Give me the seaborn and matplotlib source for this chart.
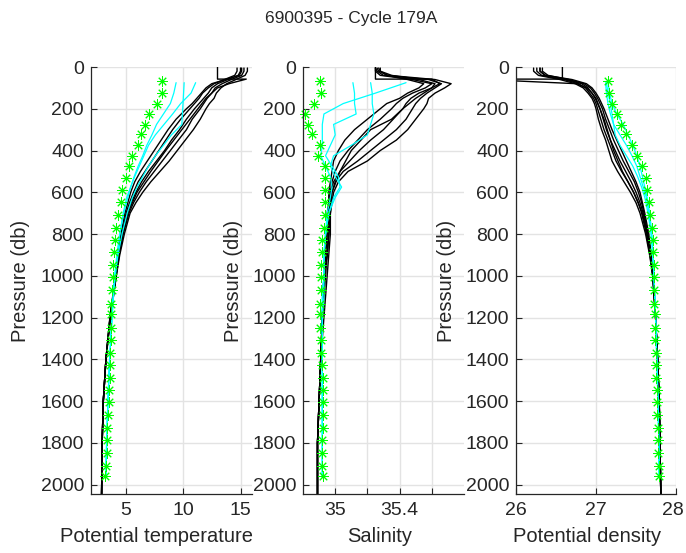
import numpy as np
import matplotlib
matplotlib.use("Agg")
import matplotlib.pyplot as plt
import matplotlib.transforms as mtransforms
import seaborn as sns

# ---------------- data ----------------
title = "6900395 - Cycle 179A"
xlabels = ["Potential temperature", "Salinity", "Potential density"]
ylabel = "Pressure (db)"
yticks = [0, 200, 400, 600, 800, 1000, 1200, 1400, 1600, 1800, 2000]

# previous cycles (black)
p_black = [5, 20, 40, 60, 80, 100, 125, 150, 175, 200, 250, 300, 350, 400, 450, 500,
           550, 600, 650, 700, 800, 900, 1000, 1200, 1400, 1600, 1800, 2045]
temp_black = [
    [15.6, 15.6, 15.4, 14.6, 13.8, 13.3, 12.9, 12.7, 12.3, 12.0, 11.5, 10.9, 10.2, 9.5, 8.8, 8.0,
     7.2, 6.5, 5.9, 5.4, 4.9, 4.5, 4.2, 3.70, 3.30, 3.07, 2.97, 2.92],
    [15.3, 15.3, 15.1, 14.2, 13.4, 12.8, 12.5, 12.1, 11.8, 11.5, 10.8, 10.3, 9.6, 8.9, 8.2, 7.5,
     6.8, 6.2, 5.7, 5.3, 4.8, 4.45, 4.2, 3.68, 3.30, 3.07, 2.97, 2.92],
    [15.0, 15.0, 14.8, 13.9, 13.0, 12.5, 12.2, 11.8, 11.4, 11.0, 10.3, 9.7, 9.0, 8.4, 7.7, 7.0,
     6.4, 5.9, 5.5, 5.15, 4.75, 4.4, 4.17, 3.66, 3.30, 3.07, 2.97, 2.92],
    [14.7, 14.7, 14.5, 13.6, 12.7, 12.2, 11.7, 11.4, 11.0, 10.6, 9.8, 9.1, 8.5, 7.9, 7.3, 6.7,
     6.1, 5.7, 5.35, 5.05, 4.7, 4.38, 4.15, 3.65, 3.30, 3.07, 2.97, 2.92],
    [15.1, 15.1, 14.9, 13.7, 12.5, 12.0, 11.6, 11.2, 10.8, 10.3, 9.4, 8.7, 8.1, 7.5, 6.9, 6.3,
     5.8, 5.45, 5.2, 4.95, 4.6, 4.33, 4.13, 3.64, 3.30, 3.07, 2.97, 2.92],
]
sal_black = [
    [35.26, 35.27, 35.33, 35.62, 35.72, 35.68, 35.62, 35.58, 35.57, 35.55, 35.50, 35.45, 35.38, 35.28,
     35.20, 35.08, 35.02, 34.99, 34.98, 34.97, 34.97, 34.96, 34.95, 34.93, 34.91, 34.90, 34.89, 34.89],
    [35.25, 35.26, 35.30, 35.58, 35.66, 35.62, 35.57, 35.53, 35.50, 35.48, 35.44, 35.38, 35.30, 35.22,
     35.14, 35.05, 35.00, 34.98, 34.97, 34.97, 34.96, 34.95, 34.94, 34.92, 34.91, 34.90, 34.89, 34.89],
    [35.27, 35.28, 35.35, 35.52, 35.62, 35.60, 35.52, 35.47, 35.44, 35.42, 35.36, 35.30, 35.22, 35.15,
     35.09, 35.03, 34.99, 34.97, 34.97, 34.96, 34.96, 34.95, 34.93, 34.92, 34.91, 34.90, 34.89, 34.89],
    [35.25, 35.25, 35.28, 35.48, 35.60, 35.56, 35.48, 35.42, 35.38, 35.35, 35.28, 35.20, 35.14, 35.08,
     35.03, 35.00, 34.98, 34.97, 34.96, 34.96, 34.95, 34.94, 34.93, 34.92, 34.91, 34.90, 34.89, 34.89],
    [35.28, 35.28, 35.32, 35.45, 35.55, 35.52, 35.45, 35.40, 35.32, 35.28, 35.20, 35.12, 35.06, 35.02,
     34.99, 34.98, 34.97, 34.96, 34.96, 34.95, 34.95, 34.94, 34.93, 34.92, 34.91, 34.90, 34.89, 34.89],
]
dens_black = [
    [26.22, 26.22, 26.28, 26.55, 26.74, 26.84, 26.90, 26.95, 26.98, 27.00, 27.03, 27.07, 27.12, 27.16,
     27.20, 27.27, 27.35, 27.43, 27.50, 27.55, 27.62, 27.67, 27.71, 27.745, 27.77, 27.79, 27.80, 27.81],
    [26.26, 26.26, 26.32, 26.60, 26.78, 26.87, 26.92, 26.97, 27.00, 27.02, 27.06, 27.10, 27.15, 27.20,
     27.25, 27.32, 27.40, 27.47, 27.53, 27.57, 27.63, 27.675, 27.71, 27.745, 27.77, 27.79, 27.80, 27.81],
    [26.30, 26.30, 26.36, 26.63, 26.82, 26.90, 26.95, 26.99, 27.02, 27.05, 27.09, 27.13, 27.18, 27.24,
     27.30, 27.37, 27.44, 27.50, 27.55, 27.59, 27.64, 27.68, 27.71, 27.745, 27.77, 27.79, 27.80, 27.81],
    [26.33, 26.33, 26.40, 26.66, 26.85, 26.93, 26.98, 27.02, 27.05, 27.08, 27.12, 27.17, 27.22, 27.28,
     27.34, 27.41, 27.48, 27.53, 27.57, 27.60, 27.65, 27.685, 27.715, 27.745, 27.77, 27.79, 27.80, 27.81],
    [26.30, 26.30, 26.37, 26.70, 26.88, 26.95, 27.00, 27.04, 27.07, 27.10, 27.15, 27.20, 27.26, 27.32,
     27.38, 27.44, 27.50, 27.55, 27.58, 27.61, 27.66, 27.69, 27.72, 27.745, 27.77, 27.79, 27.80, 27.81],
]
# one previous cycle with a bad first sample
p_odd = [0, 58, 58, 80, 100, 125, 150, 200, 250, 300, 400, 500, 600, 700, 800, 900, 1000,
         1200, 1400, 1600, 1800, 2045]
temp_odd = [13.0, 13.0, 15.5, 14.0, 13.0, 12.5, 12.0, 11.3, 10.6, 9.9, 8.5, 7.2, 6.0, 5.2, 4.75,
            4.4, 4.16, 3.66, 3.30, 3.07, 2.97, 2.92]
sal_odd = [35.25, 35.25, 35.60, 35.65, 35.60, 35.55, 35.50, 35.42, 35.35, 35.22, 35.10, 35.03,
           34.98, 34.97, 34.96, 34.95, 34.93, 34.92, 34.91, 34.90, 34.89, 34.89]
dens_odd = [26.58, 26.58, 25.50, 26.76, 26.88, 26.95, 27.00, 27.05, 27.10, 27.14, 27.22, 27.33,
            27.47, 27.58, 27.64, 27.68, 27.71, 27.745, 27.77, 27.79, 27.80, 27.81]

# current cycle (cyan)
p_cyan = [75, 125, 175, 225, 275, 325, 375, 425, 475, 525, 575, 625, 700, 800, 900, 1000,
          1100, 1200, 1400, 1600, 1800, 1965]
temp_cyan = [
    [9.4, 9.2, 8.9, 8.3, 7.7, 7.3, 6.85, 6.5, 6.1, 5.75, 5.45, 5.2, 4.85, 4.5, 4.25, 4.05,
     3.92, 3.82, 3.62, 3.47, 3.36, 3.29],
    [10.1, 10.05, 10.0, 9.95, 9.9, 9.0, 8.3, 7.6, 7.0, 6.5, 6.0, 5.6, 5.15, 4.7, 4.35, 4.1,
     3.95, 3.83, 3.62, 3.47, 3.36, 3.29],
    [11.1, 10.7, 9.8, 9.1, 8.35, 7.6, 7.0, 6.6, 6.2, 5.8, 5.45, 5.1, 4.8, 4.5, 4.3, 4.1,
     3.94, 3.83, 3.62, 3.47, 3.36, 3.29],
]
sal_cyan = [
    [35.11, 35.12, 35.12, 35.13, 34.99, 35.00, 34.97, 34.94, 34.98, 35.02, 35.03, 34.99, 34.96,
     34.94, 34.93, 34.93, 34.93, 34.92, 34.92, 34.92, 34.92, 34.92],
    [35.22, 35.23, 35.23, 35.24, 35.22, 35.20, 35.10, 34.99, 34.97, 35.00, 35.04, 35.00, 34.96,
     34.94, 34.93, 34.93, 34.92, 34.92, 34.92, 34.92, 34.92, 34.92],
    [35.44, 35.25, 35.05, 34.93, 34.92, 34.92, 34.92, 34.91, 34.94, 34.97, 34.98, 34.97, 34.95,
     34.94, 34.93, 34.93, 34.92, 34.92, 34.92, 34.92, 34.92, 34.92],
]
dens_cyan = [
    [27.15, 27.17, 27.20, 27.26, 27.34, 27.40, 27.46, 27.51, 27.55, 27.58, 27.61, 27.64, 27.67,
     27.70, 27.715, 27.725, 27.735, 27.745, 27.76, 27.775, 27.785, 27.79],
    [27.12, 27.13, 27.15, 27.18, 27.22, 27.30, 27.38, 27.45, 27.51, 27.55, 27.59, 27.63, 27.66,
     27.69, 27.71, 27.725, 27.735, 27.745, 27.76, 27.775, 27.785, 27.79],
    [27.13, 27.15, 27.18, 27.20, 27.22, 27.24, 27.30, 27.38, 27.46, 27.52, 27.57, 27.61, 27.65,
     27.69, 27.71, 27.725, 27.735, 27.745, 27.76, 27.775, 27.785, 27.79],
]

# climatology (green asterisks)
p_clim = [67, 123, 175, 225, 276, 322, 372, 424, 472, 530, 588, 648, 709, 770, 830, 888, 950,
          1005, 1069, 1133, 1181, 1248, 1309, 1368, 1429, 1488, 1549, 1605, 1666, 1728, 1785,
          1847, 1909, 1957]
temp_clim = [8.2, 8.2, 7.7, 7.05, 6.7, 6.33, 6.1, 5.6, 5.3, 5.0, 4.7, 4.57, 4.35, 4.2, 4.07, 4.0,
             3.92, 3.87, 3.81, 3.72, 3.72, 3.72, 3.70, 3.64, 3.64, 3.61, 3.57, 3.57, 3.49, 3.43,
             3.40, 3.35, 3.29, 3.26]
sal_clim = [34.907, 34.912, 34.866, 34.81, 34.83, 34.856, 34.907, 34.893, 34.934, 34.938, 34.938,
            34.938, 34.934, 34.928, 34.918, 34.918, 34.912, 34.912, 34.912, 34.903, 34.903, 34.903,
            34.912, 34.912, 34.918, 34.924, 34.924, 34.924, 34.924, 34.924, 34.918, 34.918, 34.918,
            34.924]
dens_clim = [27.153, 27.165, 27.206, 27.26, 27.318, 27.38, 27.454, 27.516, 27.57, 27.62, 27.64,
             27.66, 27.68, 27.695, 27.71, 27.715, 27.72, 27.723, 27.725, 27.73, 27.733, 27.735,
             27.74, 27.745, 27.75, 27.755, 27.76, 27.763, 27.767, 27.771, 27.775, 27.778, 27.782,
             27.785]

# ---------------- style ----------------
sns.set_style("white")
plt.rcParams["font.family"] = ["Liberation Sans", "DejaVu Sans"]
DARK = "#262626"
GRID = "#e3e3e3"
GREEN = "#00ff00"

fig = plt.figure(figsize=(6.86, 5.53), dpi=100)
W, H = 686.0, 553.0
bottom = 1 - 494 / H
height = (494 - 67) / H
lefts = [91, 303, 516]
widths = [161, 161, 160]
xlims = [(2, 16), (34.8, 35.8), (26, 28)]
xticks = [[5, 10, 15], [35.0, 35.2, 35.4, 35.6], [26, 27, 28]]
xticklabels = [["5", "10", "15"], ["35", "", "35.4", ""], ["26", "27", "28"]]
xlabel_x = [157, 380, 587]
ylabel_x = [21, 233, 446]

black_sets = [temp_black, sal_black, dens_black]
odd_sets = [temp_odd, sal_odd, dens_odd]
cyan_sets = [temp_cyan, sal_cyan, dens_cyan]
clim_sets = [temp_clim, sal_clim, dens_clim]

for i in range(3):
    ax = fig.add_axes([lefts[i] / W, bottom, widths[i] / W, height])
    for prof in black_sets[i]:
        sns.lineplot(x=prof, y=p_black, ax=ax, sort=False, estimator=None,
                     color="black", lw=1.0)
    sns.lineplot(x=odd_sets[i], y=p_odd, ax=ax, sort=False, estimator=None,
                 color="black", lw=1.0)
    for prof in cyan_sets[i]:
        sns.lineplot(x=prof, y=p_cyan, ax=ax, sort=False, estimator=None,
                     color="#00ffff", lw=0.9)
    sns.lineplot(x=clim_sets[i], y=p_clim, ax=ax, sort=False, estimator=None,
                 color=GREEN, linestyle="none", marker=(8, 2, 0), markersize=7.5,
                 markeredgewidth=0.7, markeredgecolor=GREEN, markerfacecolor=GREEN,
                 clip_on=False)

    ax.set_xlim(*xlims[i])
    ax.set_ylim(2045, 0)
    ax.set_xticks(xticks[i])
    ax.set_xticklabels(xticklabels[i])
    ax.set_yticks(yticks)
    ax.set_yticklabels([str(v) for v in yticks])
    ax.grid(True, color=GRID, lw=1.0)
    ax.set_axisbelow(True)
    for s in ["top", "right"]:
        ax.spines[s].set_visible(False)
    for s in ["left", "bottom"]:
        ax.spines[s].set_color(DARK)
        ax.spines[s].set_linewidth(0.9)
    ax.tick_params(axis="both", direction="in", length=4, width=0.8, color=DARK,
                   labelcolor=DARK, labelsize=14, left=True, bottom=True)
    ax.tick_params(axis="x", pad=6)
    ax.tick_params(axis="y", pad=5)
    ax.set_xlabel(xlabels[i], fontsize=14.5, color=DARK, va="center")
    ax.xaxis.set_label_coords((xlabel_x[i] - lefts[i]) / widths[i], (494 - 536) / 427.0)
    ax.set_ylabel(ylabel, fontsize=14.5, color=DARK, va="center")
    ax.yaxis.set_label_coords((ylabel_x[i] - lefts[i]) / widths[i], 0.5)
    if i == 2:
        last = ax.get_xticklabels()[-1]
        last.set_transform(last.get_transform() +
                           mtransforms.ScaledTranslation(-2.5 / 72, 0, fig.dpi_scale_trans))

fig.text(351 / W, 1 - 18 / H, title, ha="center", va="center", fontsize=12.5, color=DARK)

fig.savefig("out.png", dpi=100)
